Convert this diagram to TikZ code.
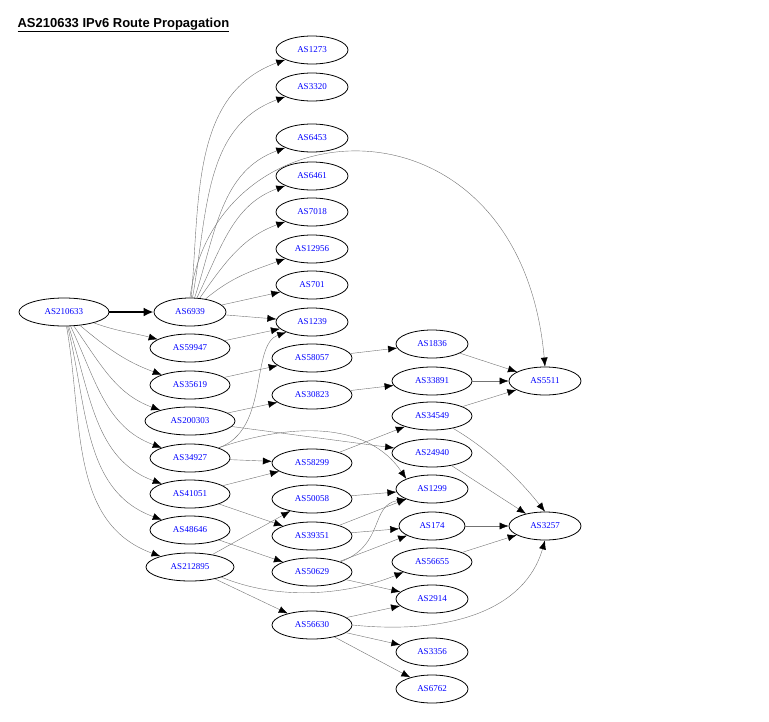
\documentclass[tikz,border=0pt]{standalone}
\usepackage{fontspec}
\setmainfont{Liberation Serif}
\newfontfamily\titlefont{Liberation Sans}
\usetikzlibrary{arrows.meta,shapes.geometric}
\begin{document}
\begin{tikzpicture}[x=1pt,y=-1pt,
 as/.style={ellipse,draw=black,line width=0.8pt,minimum width=72pt,minimum height=28pt,inner sep=0pt,text=blue,font=\fontsize{9}{10}\selectfont},
 e/.style={draw=black!55,line width=0.4pt,-{Latex[length=9pt,width=7pt,black]}}]
\useasboundingbox (0,0) rectangle (769,721);
\node[anchor=base west,font=\titlefont\bfseries\fontsize{13}{15}\selectfont] (title) at (14,27) {\underline{AS210633 IPv6 Route Propagation}};
\node[as,minimum width=90pt] (a210633) at (64,312) {AS210633};
\node[as] (a6939) at (190,312) {AS6939};
\node[as] (a1273) at (312,50) {AS1273};
\node[as] (a3320) at (312,87) {AS3320};
\node[as] (a6453) at (312,138) {AS6453};
\node[as] (a6461) at (312,176) {AS6461};
\node[as] (a7018) at (312,212) {AS7018};
\node[as] (a12956) at (312,249) {AS12956};
\node[as] (a701) at (312,285) {AS701};
\node[as] (a1239) at (312,322) {AS1239};
\node[as,minimum width=80pt] (a59947) at (190,348) {AS59947};
\node[as,minimum width=80pt] (a35619) at (190,385) {AS35619};
\node[as,minimum width=80pt] (a58057) at (312,358) {AS58057};
\node[as] (a1836) at (432,344) {AS1836};
\node[as,minimum width=80pt] (a33891) at (432,381) {AS33891};
\node[as] (a5511) at (545,381) {AS5511};
\node[as,minimum width=90pt] (a200303) at (190,421) {AS200303};
\node[as,minimum width=80pt] (a30823) at (312,395) {AS30823};
\node[as,minimum width=80pt] (a34549) at (432,416) {AS34549};
\node[as,minimum width=80pt] (a34927) at (190,458) {AS34927};
\node[as,minimum width=80pt] (a58299) at (312,463) {AS58299};
\node[as,minimum width=80pt] (a24940) at (432,453) {AS24940};
\node[as,minimum width=80pt] (a41051) at (190,494) {AS41051};
\node[as,minimum width=80pt] (a50058) at (312,499) {AS50058};
\node[as] (a1299) at (432,489) {AS1299};
\node[as,minimum width=80pt] (a39351) at (312,536) {AS39351};
\node[as,minimum width=66pt] (a174) at (432,526) {AS174};
\node[as] (a3257) at (545,526) {AS3257};
\node[as,minimum width=80pt] (a48646) at (190,530) {AS48646};
\node[as,minimum width=88pt] (a212895) at (190,567) {AS212895};
\node[as,minimum width=80pt] (a50629) at (312,572) {AS50629};
\node[as,minimum width=80pt] (a56655) at (432,562) {AS56655};
\node[as] (a2914) at (432,599) {AS2914};
\node[as,minimum width=80pt] (a56630) at (312,625) {AS56630};
\node[as] (a3356) at (432,652) {AS3356};
\node[as] (a6762) at (432,689) {AS6762};

\draw[line width=2.5pt,-{Latex[length=10pt,width=9pt]}] (a210633) -- (a6939);
\draw[e] (a210633) to[out=-20,in=165] (a59947);
\draw[e] (a210633) to[out=-40,in=160] (a35619);
\draw[e] (a210633) to[out=-55,in=160] (a200303);
\draw[e] (a210633) to[out=-65,in=160] (a34927);
\draw[e] (a210633) to[out=-72,in=160] (a41051);
\draw[e] (a210633) to[out=-76,in=160] (a48646);
\draw[e] (a210633) to[out=-80,in=160] (a212895);
\draw[e] (a6939) to[out=85,in=200] (a1273);
\draw[e] (a6939) to[out=80,in=200] (a3320);
\draw[e] (a6939) to[out=72,in=200] (a6453);
\draw[e] (a6939) to[out=64,in=200] (a6461);
\draw[e] (a6939) to[out=55,in=200] (a7018);
\draw[e] (a6939) to[out=40,in=200] (a12956);
\draw[e] (a6939) -- (a701);
\draw[e] (a6939) -- (a1239);
\draw[e] (a6939.north) .. controls (215,100) and (520,85) .. (a5511.north);
\draw[e] (a59947) -- (a1239);
\draw[e] (a35619) -- (a58057);
\draw[e] (a200303) -- (a30823);
\draw[e] (a200303) -- (a24940);
\draw[e] (a34927.north east) .. controls (270,430) and (250,345) .. (a1239.south west);
\draw[e] (a34927) -- (a58299);
\draw[e] (a34927.north east) .. controls (300,420) and (370,425) .. (a1299.north west);
\draw[e] (a41051) -- (a58299);
\draw[e] (a41051) -- (a39351);
\draw[e] (a48646) -- (a50629);
\draw[e] (a212895) -- (a50058);
\draw[e] (a212895.south east) .. controls (290,605) and (360,590) .. (a56655.south west);
\draw[e] (a212895) -- (a56630);
\draw[e] (a58057) -- (a1836);
\draw[e] (a30823) -- (a33891);
\draw[e] (a58299) -- (a34549);
\draw[e] (a50058) -- (a1299);
\draw[e] (a39351) -- (a1299);
\draw[e] (a39351) -- (a174);
\draw[e] (a50629.north east) .. controls (385,545) and (370,505) .. (a1299.south west);
\draw[e] (a50629) -- (a174);
\draw[e] (a50629) -- (a2914);
\draw[e] (a56630) -- (a2914);
\draw[e] (a56630.east) .. controls (450,635) and (525,610) .. (a3257.south);
\draw[e] (a56630) -- (a3356);
\draw[e] (a56630) -- (a6762);
\draw[e] (a1836) -- (a5511);
\draw[e] (a33891) -- (a5511);
\draw[e] (a34549) -- (a5511);
\draw[e] (a34549) .. controls (490,450) and (520,480) .. (a3257.north);
\draw[e] (a24940) -- (a3257);
\draw[e] (a174) -- (a3257);
\draw[e] (a56655) -- (a3257);
\end{tikzpicture}
\end{document}
